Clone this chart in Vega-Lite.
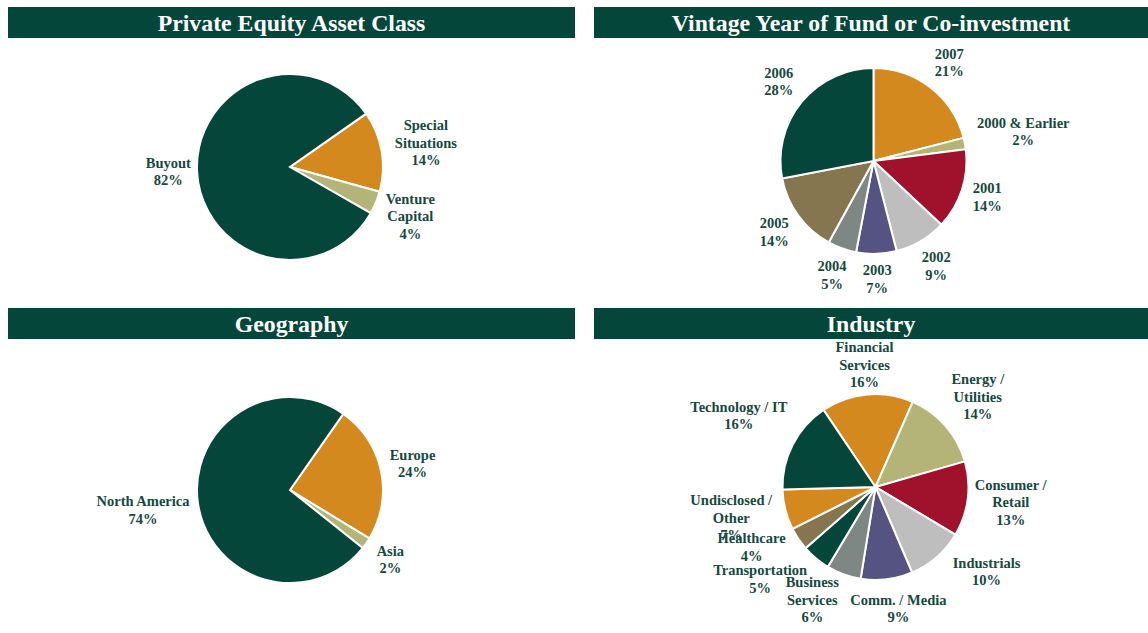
{
  "$schema": "https://vega.github.io/schema/vega-lite/v6.json",
  "background": "white",
  "padding": {"left": 8, "top": 7, "right": 0, "bottom": 0},
  "config": {
    "view": {"stroke": null},
    "text": {"font": "Liberation Serif", "fontWeight": "bold"}
  },
  "spacing": 12,
  "resolve": {"scale": {"color": "independent", "theta": "independent"}},
  "vconcat": [
    {
      "spacing": 19,
      "resolve": {"scale": {"color": "independent", "theta": "independent"}},
      "hconcat": [
        {
          "bounds": "flush",
          "spacing": 0,
          "resolve": {"scale": {"color": "independent", "theta": "independent"}},
          "vconcat": [
            {
              "width": 567, "height": 31,
              "view": {"fill": "#04463A", "stroke": null},
              "data": {"values": [{"t": "Private Equity Asset Class"}]},
              "mark": {"type": "text", "fontSize": 23.8, "color": "white", "baseline": "middle", "dy": 1.5},
              "encoding": {"text": {"field": "t"}}
            },
            {
              "width": 564, "height": 258,
              "data": {"values": [
                {"i": 1, "cat": "Special\nSituations", "pct": 14},
                {"i": 2, "cat": "Venture\nCapital", "pct": 4},
                {"i": 3, "cat": "Buyout", "pct": 82}
              ]},
              "transform": [
                {"calculate": "split(datum.cat + '\\n' + datum.pct + '%', '\\n')", "as": "label"},
                {"calculate": "indexof(datum.cat, '\\n')", "as": "nl"},
                {"calculate": "3.5 * (datum.nl < 0 ? length(datum.cat) : max(datum.nl, length(datum.cat) - datum.nl - 1))", "as": "hw"},
                {"calculate": "8.75 * (datum.nl < 0 ? 2 : 3)", "as": "hh"},
                {"calculate": "datum.nl < 0 ? 17.5 : 20", "as": "vh"}
              ],
              "layer": [
                {
                  "mark": {"type": "arc", "outerRadius": 93, "stroke": "white", "strokeWidth": 2},
                  "encoding": {
                    "theta": {"field": "pct", "type": "quantitative", "stack": true, "scale": {"range": [0.96, 7.243]}},
                    "order": {"field": "i"},
                    "color": {"field": "cat", "type": "nominal", "legend": null,
                      "scale": {"domain": ["Special\nSituations", "Venture\nCapital", "Buyout"], "range": ["#D4891E", "#B4B479", "#04463A"]}}
                  }
                },
                {
                  "mark": {"type": "text", "fontSize": 14.5, "lineHeight": 17.5, "color": "#15493E", "baseline": "middle", "align": "center",
                    "dy": {"expr": "8.75 - datum.hh"},
                    "radius": {"expr": "100 + abs(sin(0.96 + PI * (datum.pct_start + datum.pct_end) / 100)) * datum.hw + abs(cos(0.96 + PI * (datum.pct_start + datum.pct_end) / 100)) * datum.vh"}},
                  "encoding": {
                    "theta": {"field": "pct", "type": "quantitative", "stack": true, "scale": {"range": [0.96, 7.243]}},
                    "order": {"field": "i"},
                    "text": {"field": "label"}
                  }
                }
              ]
            }
          ]
        },
        {
          "bounds": "flush",
          "spacing": 0,
          "resolve": {"scale": {"color": "independent", "theta": "independent"}},
          "vconcat": [
            {
              "width": 554, "height": 31,
              "view": {"fill": "#04463A", "stroke": null},
              "data": {"values": [{"t": "Vintage Year of Fund or Co-investment"}]},
              "mark": {"type": "text", "fontSize": 23.8, "color": "white", "baseline": "middle", "dy": 1.5},
              "encoding": {"text": {"field": "t"}}
            },
            {
              "width": 559, "height": 246,
              "data": {"values": [
                {"i": 1, "cat": "2007", "pct": 21},
                {"i": 2, "cat": "2000 & Earlier", "pct": 2},
                {"i": 3, "cat": "2001", "pct": 14},
                {"i": 4, "cat": "2002", "pct": 9},
                {"i": 5, "cat": "2003", "pct": 7},
                {"i": 6, "cat": "2004", "pct": 5},
                {"i": 7, "cat": "2005", "pct": 14},
                {"i": 8, "cat": "2006", "pct": 28}
              ]},
              "transform": [
                {"calculate": "split(datum.cat + '\\n' + datum.pct + '%', '\\n')", "as": "label"},
                {"calculate": "indexof(datum.cat, '\\n')", "as": "nl"},
                {"calculate": "3.5 * (datum.nl < 0 ? length(datum.cat) : max(datum.nl, length(datum.cat) - datum.nl - 1))", "as": "hw"},
                {"calculate": "8.75 * (datum.nl < 0 ? 2 : 3)", "as": "hh"},
                {"calculate": "datum.nl < 0 ? 17.5 : 20", "as": "vh"}
              ],
              "layer": [
                {
                  "mark": {"type": "arc", "outerRadius": 93, "stroke": "white", "strokeWidth": 2},
                  "encoding": {
                    "theta": {"field": "pct", "type": "quantitative", "stack": true, "scale": {"range": [0, 6.2832]}},
                    "order": {"field": "i"},
                    "color": {"field": "cat", "type": "nominal", "legend": null,
                      "scale": {"domain": ["2007", "2000 & Earlier", "2001", "2002", "2003", "2004", "2005", "2006"],
                                "range": ["#D4891E", "#B4B479", "#A0112B", "#BEBEBE", "#545382", "#7E8784", "#857650", "#04463A"]}}
                  }
                },
                {
                  "mark": {"type": "text", "fontSize": 14.5, "lineHeight": 17.5, "color": "#15493E", "baseline": "middle", "align": "center",
                    "dy": {"expr": "8.75 - datum.hh"},
                    "radius": {"expr": "101 + abs(sin(PI * (datum.pct_start + datum.pct_end) / 100)) * datum.hw + abs(cos(PI * (datum.pct_start + datum.pct_end) / 100)) * datum.vh"}},
                  "encoding": {
                    "theta": {"field": "pct", "type": "quantitative", "stack": true, "scale": {"range": [0, 6.2832]}},
                    "order": {"field": "i"},
                    "text": {"field": "label"}
                  }
                }
              ]
            }
          ]
        }
      ]
    },
    {
      "spacing": 19,
      "resolve": {"scale": {"color": "independent", "theta": "independent"}},
      "hconcat": [
        {
          "bounds": "flush",
          "spacing": 0,
          "resolve": {"scale": {"color": "independent", "theta": "independent"}},
          "vconcat": [
            {
              "width": 567, "height": 31,
              "view": {"fill": "#04463A", "stroke": null},
              "data": {"values": [{"t": "Geography"}]},
              "mark": {"type": "text", "fontSize": 23.8, "color": "white", "baseline": "middle", "dy": 1.5},
              "encoding": {"text": {"field": "t"}}
            },
            {
              "width": 564, "height": 302,
              "data": {"values": [
                {"i": 1, "cat": "Europe", "pct": 24},
                {"i": 2, "cat": "Asia", "pct": 2},
                {"i": 3, "cat": "North America", "pct": 74}
              ]},
              "transform": [
                {"calculate": "split(datum.cat + '\\n' + datum.pct + '%', '\\n')", "as": "label"},
                {"calculate": "indexof(datum.cat, '\\n')", "as": "nl"},
                {"calculate": "3.5 * (datum.nl < 0 ? length(datum.cat) : max(datum.nl, length(datum.cat) - datum.nl - 1))", "as": "hw"},
                {"calculate": "8.75 * (datum.nl < 0 ? 2 : 3)", "as": "hh"},
                {"calculate": "datum.nl < 0 ? 17.5 : 20", "as": "vh"}
              ],
              "layer": [
                {
                  "mark": {"type": "arc", "outerRadius": 93, "stroke": "white", "strokeWidth": 2},
                  "encoding": {
                    "theta": {"field": "pct", "type": "quantitative", "stack": true, "scale": {"range": [0.611, 6.894]}},
                    "order": {"field": "i"},
                    "color": {"field": "cat", "type": "nominal", "legend": null,
                      "scale": {"domain": ["Europe", "Asia", "North America"], "range": ["#D4891E", "#B4B479", "#04463A"]}}
                  }
                },
                {
                  "mark": {"type": "text", "fontSize": 14.5, "lineHeight": 17.5, "color": "#15493E", "baseline": "middle", "align": "center",
                    "dy": {"expr": "8.75 - datum.hh"},
                    "radius": {"expr": "101 + abs(sin(0.611 + PI * (datum.pct_start + datum.pct_end) / 100)) * datum.hw + abs(cos(0.611 + PI * (datum.pct_start + datum.pct_end) / 100)) * datum.vh"}},
                  "encoding": {
                    "theta": {"field": "pct", "type": "quantitative", "stack": true, "scale": {"range": [0.611, 6.894]}},
                    "order": {"field": "i"},
                    "text": {"field": "label"}
                  }
                }
              ]
            }
          ]
        },
        {
          "bounds": "flush",
          "spacing": 0,
          "resolve": {"scale": {"color": "independent", "theta": "independent"}},
          "vconcat": [
            {
              "width": 554, "height": 31,
              "view": {"fill": "#04463A", "stroke": null},
              "data": {"values": [{"t": "Industry"}]},
              "mark": {"type": "text", "fontSize": 23.8, "color": "white", "baseline": "middle", "dy": 1.5},
              "encoding": {"text": {"field": "t"}}
            },
            {
              "width": 563, "height": 296,
              "data": {"values": [
                {"i": 1, "cat": "Financial\nServices", "pct": 16},
                {"i": 2, "cat": "Energy /\nUtilities", "pct": 14},
                {"i": 3, "cat": "Consumer /\nRetail", "pct": 13},
                {"i": 4, "cat": "Industrials", "pct": 10},
                {"i": 5, "cat": "Comm. / Media", "pct": 9},
                {"i": 6, "cat": "Business\nServices", "pct": 6},
                {"i": 7, "cat": "Transportation", "pct": 5},
                {"i": 8, "cat": "Healthcare", "pct": 4},
                {"i": 9, "cat": "Undisclosed /\nOther", "pct": 7},
                {"i": 10, "cat": "Technology / IT", "pct": 16}
              ]},
              "transform": [
                {"calculate": "split(datum.cat + '\\n' + datum.pct + '%', '\\n')", "as": "label"},
                {"calculate": "indexof(datum.cat, '\\n')", "as": "nl"},
                {"calculate": "3.5 * (datum.nl < 0 ? length(datum.cat) : max(datum.nl, length(datum.cat) - datum.nl - 1))", "as": "hw"},
                {"calculate": "8.75 * (datum.nl < 0 ? 2 : 3)", "as": "hh"},
                {"calculate": "datum.nl < 0 ? 17.5 : 20", "as": "vh"}
              ],
              "layer": [
                {
                  "mark": {"type": "arc", "outerRadius": 93, "stroke": "white", "strokeWidth": 2},
                  "encoding": {
                    "theta": {"field": "pct", "type": "quantitative", "stack": true, "scale": {"range": [-0.593, 5.690]}},
                    "order": {"field": "i"},
                    "color": {"field": "cat", "type": "nominal", "legend": null,
                      "scale": {"domain": ["Financial\nServices", "Energy /\nUtilities", "Consumer /\nRetail", "Industrials", "Comm. / Media", "Business\nServices", "Transportation", "Healthcare", "Undisclosed /\nOther", "Technology / IT"],
                                "range": ["#D4891E", "#B4B479", "#A0112B", "#BEBEBE", "#545382", "#7E8784", "#04463A", "#857650", "#D4891E", "#04463A"]}}
                  }
                },
                {
                  "transform": [
                    {"stack": "pct", "groupby": [], "sort": [{"field": "i", "order": "ascending"}], "as": ["s0", "s1"]},
                    {"calculate": "-0.593 + PI * (datum.s0 + datum.s1) / 100", "as": "A"},
                    {"calculate": "0.2618 * sin(2 * datum.A) * max(0, -cos(datum.A))", "as": "D"},
                    {"calculate": "99 + abs(sin(datum.A + datum.D)) * datum.hw + abs(cos(datum.A + datum.D)) * datum.vh", "as": "R"}
                  ],
                  "mark": {"type": "text", "fontSize": 14.5, "lineHeight": 17.5, "color": "#15493E", "baseline": "middle", "align": "center",
                    "dy": {"expr": "8.75 - datum.hh"},
                    "thetaOffset": {"expr": "datum.D"},
                    "radius": {"expr": "datum.R"}},
                  "encoding": {
                    "theta": {"field": "pct", "type": "quantitative", "stack": true, "scale": {"range": [-0.593, 5.690]}},
                    "order": {"field": "i"},
                    "text": {"field": "label"}
                  }
                }
              ]
            }
          ]
        }
      ]
    }
  ]
}
